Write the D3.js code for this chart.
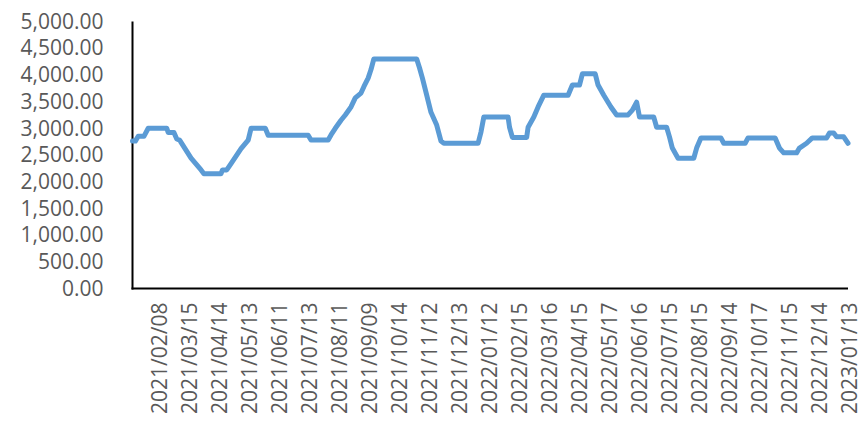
<!DOCTYPE html>
<html>
<head>
<meta charset="utf-8">
<script src="https://cdn.jsdelivr.net/npm/d3@7"></script>
<style>
  body { margin: 0; background: #fff; }
  #chart text { font-family: "Open Sans", sans-serif; fill: #595959; }
</style>
</head>
<body>
<div id="chart"></div>
<script>
// x labels are shown every 21 trading days, starting at day 18
var tickLabels = ["2021/02/08", "2021/03/15", "2021/04/14", "2021/05/13", "2021/06/11", "2021/07/13",
  "2021/08/11", "2021/09/09", "2021/10/14", "2021/11/12", "2021/12/13", "2022/01/12",
  "2022/02/15", "2022/03/16", "2022/04/15", "2022/05/17", "2022/06/16", "2022/07/15",
  "2022/08/15", "2022/09/14", "2022/10/17", "2022/11/15", "2022/12/14", "2023/01/13"];
var firstLabelDay = 18;
var labelStep = 21;
var lastDay = 501;

// trading-day index where the price changes, and the price there
var days = [0, 2, 4, 8, 11, 24, 25, 29, 31, 33, 41, 48, 50, 62, 63, 66, 69, 76, 81, 83, 93, 95,
  123, 125, 137, 139, 142, 146, 149, 153, 156, 160, 162, 165, 167, 169, 199, 201, 203, 206, 209,
  213, 216, 218, 242, 244, 246, 263, 264, 266, 276, 277, 281, 284, 288, 305, 308, 313, 315, 324,
  326, 330, 335, 339, 347, 350, 353, 355, 365, 367, 374, 376, 378, 382, 393, 395, 398, 412, 414,
  429, 431, 450, 453, 456, 465, 467, 472, 476, 486, 488, 491, 493, 498, 501];
var prices = [2760, 2760, 2850, 2850, 3000, 3000, 2920, 2920, 2800, 2780, 2440, 2220, 2150, 2150,
  2220, 2220, 2340, 2620, 2780, 3000, 3000, 2870, 2870, 2780, 2780, 2875, 3000, 3150, 3250, 3400,
  3570, 3660, 3780, 3940, 4100, 4300, 4300, 4130, 3940, 3620, 3300, 3060, 2760, 2720, 2720, 2930,
  3210, 3210, 3020, 2830, 2830, 3020, 3210, 3400, 3620, 3620, 3810, 3810, 4020, 4020, 3810, 3620,
  3400, 3250, 3250, 3340, 3490, 3210, 3210, 3020, 3020, 2840, 2630, 2440, 2440, 2630, 2820, 2820,
  2720, 2720, 2820, 2820, 2630, 2540, 2540, 2630, 2720, 2820, 2820, 2910, 2910, 2840, 2840, 2720];

var yTicks = [0, 500, 1000, 1500, 2000, 2500, 3000, 3500, 4000, 4500, 5000];

var render = function() {
  let width = 861;
  let height = 423;

  let svg = d3.select("#chart")
  .append("svg")
  .attr("width", width)
  .attr("height", height);

  let dayScale = d3.scaleLinear()
  .domain([0, lastDay])
  .range([132.5, 848]);

  let priceScale = d3.scaleLinear()
  .domain([0, 5000])
  .range([288.5, 21.5]);

  // y axis labels
  let yAxis = d3.axisLeft(priceScale)
  .tickValues(yTicks)
  .tickSize(0)
  .tickPadding(29)
  .tickFormat(d3.format(",.2f"));
  let gy = svg.append("g")
  .attr("transform", "translate(132.5,0)")
  .call(yAxis);
  gy.select(".domain").remove();
  gy.selectAll("text").style("font-size", "21px");

  // x axis labels
  let labelDays = tickLabels.map((d, i) => firstLabelDay + i * labelStep);
  let xAxis = d3.axisBottom(dayScale)
  .tickValues(labelDays)
  .tickSize(0)
  .tickFormat((d, i) => tickLabels[i]);
  let gx = svg.append("g")
  .attr("transform", "translate(0,288.5)")
  .call(xAxis);
  gx.select(".domain").remove();
  gx.selectAll("text")
  .style("font-size", "21px")
  .attr("text-anchor", "end")
  .attr("dy", null)
  .attr("y", 0)
  .attr("dominant-baseline", "central")
  .attr("transform", "translate(0,14) rotate(-90)");

  // axis lines
  svg.append("line")
  .attr("x1", 132.5).attr("x2", 132.5)
  .attr("y1", priceScale(5000)).attr("y2", 289.5)
  .attr("stroke", "#000").attr("stroke-width", 2);
  svg.append("line")
  .attr("x1", 131.5).attr("x2", 848)
  .attr("y1", 288.5).attr("y2", 288.5)
  .attr("stroke", "#000").attr("stroke-width", 2);

  let points = days.map((d, i) => [d, prices[i]]);
  let line = d3.line()
  .x((d) => dayScale(d[0]))
  .y((d) => priceScale(d[1]));

  svg.append("path")
  .datum(points)
  .attr("d", line)
  .attr("fill", "none")
  .attr("stroke", "#5B9BD5")
  .attr("stroke-width", 5)
  .attr("stroke-linejoin", "round")
  .attr("stroke-linecap", "round");
};

render();
</script>
</body>
</html>
